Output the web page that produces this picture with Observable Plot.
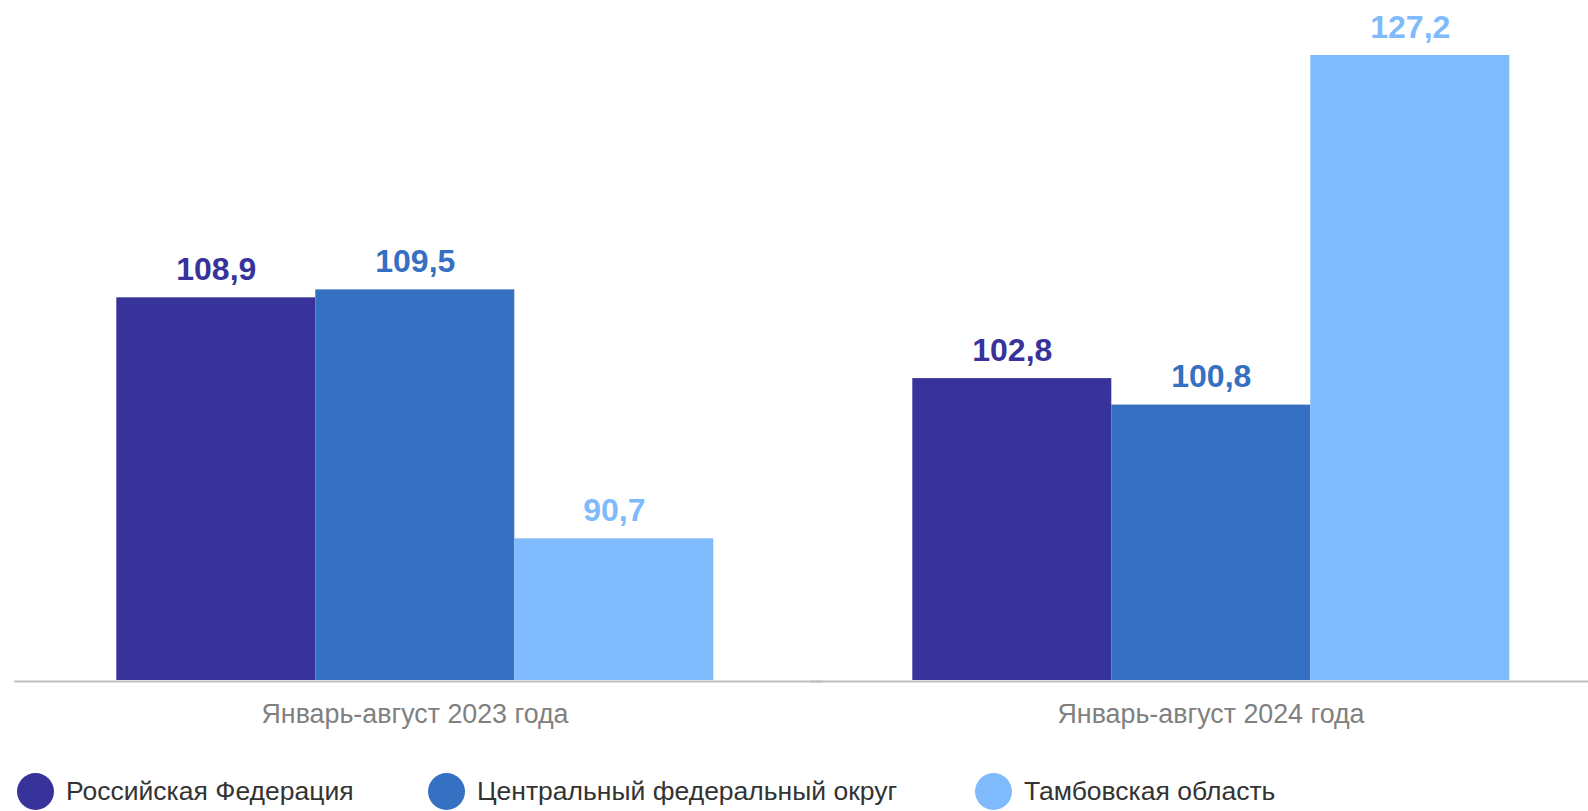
<!DOCTYPE html>
<html>
<head>
<meta charset="utf-8">
<script src="https://cdn.jsdelivr.net/npm/d3@7"></script>
<script src="https://cdn.jsdelivr.net/npm/@observablehq/plot@0.6"></script>
<style>
  body { margin: 0; background: #fff; font-family: "Liberation Sans", Arial, sans-serif; overflow: hidden; }
  #legend { position: relative; width: 1588px; height: 71px; }
  .item { position: absolute; top: 33px; display: flex; align-items: center; white-space: nowrap; }
  .dot { width: 37px; height: 37px; border-radius: 50%; margin-right: 12px; }
  .lbl { font-size: 26.5px; color: #333; line-height: 37px; }
</style>
</head>
<body>
<div id="chart"></div>
<div id="legend"></div>
<script>
const periods = ["Январь-август 2023 года", "Январь-август 2024 года"];
const series = ["Российская Федерация", "Центральный федеральный округ", "Тамбовская область"];
const colors = ["#38339A", "#3570C3", "#7FBBFC"];
const values2023 = [108.9, 109.5, 90.7];
const values2024 = [102.8, 100.8, 127.2];
const legendLeft = [17, 428, 975];

const data = [];
series.forEach((s, i) => {
  data.push({period: periods[0], series: s, value: values2023[i]});
  data.push({period: periods[1], series: s, value: values2024[i]});
});
const fmt = v => v.toFixed(1).replace(".", ",");

const plot = Plot.plot({
  width: 1588,
  height: 740,
  marginTop: 55,
  marginBottom: 60,
  marginLeft: 115.7,
  marginRight: 78.7,
  style: {fontFamily: "Liberation Sans, Arial, sans-serif", background: "#fff"},
  fx: {domain: periods, paddingInner: 0.25, paddingOuter: 0, label: null},
  x: {domain: series, padding: 0, axis: null},
  y: {domain: [80, 127.2], axis: null},
  color: {domain: series, range: colors},
  marks: [
    Plot.barY(data, {fx: "period", x: "series", y1: 80, y2: "value", fill: "series"}),
    Plot.ruleY([80], {stroke: "#c0c0c0", strokeWidth: 2, dy: 1, insetLeft: -101.7, insetRight: -110}),
    Plot.text(data, {fx: "period", x: "series", y: "value", text: d => fmt(d.value), fill: "series",
      fontSize: 32, fontWeight: "bold", dy: -28}),
    Plot.axisFx({anchor: "bottom", tickSize: 0, tickPadding: 23, fontSize: 26.8, fill: "#808080", label: null})
  ]
});
document.getElementById("chart").appendChild(plot);

const legend = d3.select("#legend");
series.forEach((s, i) => {
  const it = legend.append("div").attr("class", "item").style("left", legendLeft[i] + "px");
  it.append("div").attr("class", "dot").style("background", colors[i]);
  it.append("span").attr("class", "lbl").text(s);
});
</script>
</body>
</html>
